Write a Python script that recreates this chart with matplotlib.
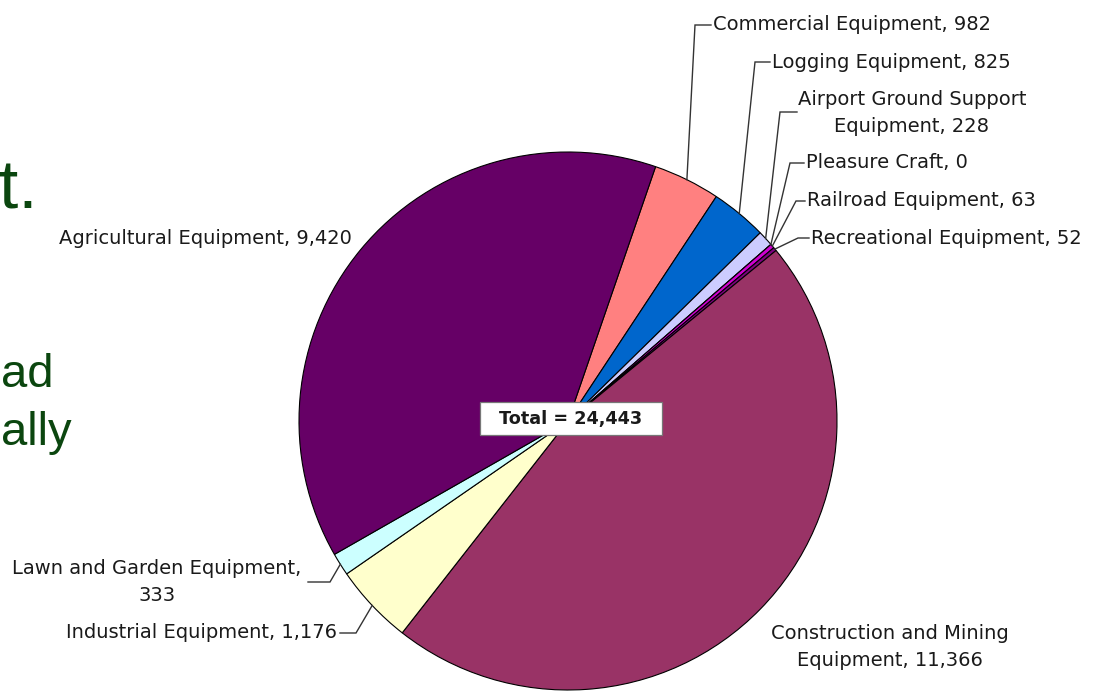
import matplotlib.pyplot as plt
from matplotlib.patches import Rectangle
import numpy as np

# equipment categories, clockwise from the Commercial slice
categories = ["Commercial Equipment", "Logging Equipment", "Airport Ground Support\nEquipment",
              "Pleasure Craft", "Railroad Equipment", "Recreational Equipment",
              "Construction and Mining\nEquipment", "Industrial Equipment",
              "Lawn and Garden Equipment,", "Agricultural Equipment"]
values = [982, 825, 228, 0, 63, 52, 11366, 1176, 333, 9420]
colors = ["#FF8080", "#0066CC", "#CCCCFF", "#000080", "#D000D0", "#800080",
          "#993366", "#FFFFCC", "#CCFFFF", "#660066"]
total = 24443

W, H = 1099, 692
fig = plt.figure(figsize=(W / 100, H / 100), dpi=100)
ax = fig.add_axes([0, 0, 1, 1])

def Y(y):
    # layout positions are given top-down in pixels
    return H - y

cx, cy, r = 568, Y(421), 269
wedges, _ = ax.pie(values, colors=colors, startangle=71, counterclock=False,
                   center=(cx, cy), radius=r, frame=True,
                   wedgeprops=dict(edgecolor="black", linewidth=0.8))
ax.set_xlim(0, W)
ax.set_ylim(0, H)
ax.set_aspect("equal")
ax.axis("off")

# label placement: text position, alignment and leader elbow points
layout = [
    dict(xy=(713, 25), ha="left", path=[(695, 25), (711, 25)]),
    dict(xy=(772, 62), ha="left", path=[(755, 62), (770, 62)]),
    dict(xy=(912, 113), ha="center", path=[(780, 112), (797, 112)]),
    dict(xy=(806, 163), ha="left", path=[(790, 163), (804, 163)]),
    dict(xy=(807, 201), ha="left", path=[(796, 201), (805, 201)]),
    dict(xy=(811, 238), ha="left", path=[(798, 238), (809, 238)]),
    dict(xy=(890, 647), ha="center", path=None),
    dict(xy=(337, 633), ha="right", path=[(356, 633), (340, 633)]),
    dict(xy=(157, 582), ha="center", path=[(330, 582), (308, 582)]),
    dict(xy=(205, 238), ha="center", path=None),
]

font = dict(family="DejaVu Sans", size=14, color="#1a1a1a")
for w, name, v, lay in zip(wedges, categories, values, layout):
    sep = "\n" if name.endswith(",") else ", "
    label = f"{name}{sep}{v:,}"
    tx, ty = lay["xy"]
    ax.text(tx, Y(ty), label, ha=lay["ha"], va="center", linespacing=1.55,
            multialignment="center", **font)
    if lay["path"]:
        mid = np.deg2rad((w.theta1 + w.theta2) / 2)
        ax0 = cx + r * np.cos(mid)
        ay0 = cy + r * np.sin(mid)
        xs = [ax0] + [p[0] for p in lay["path"]]
        ys = [ay0] + [Y(p[1]) for p in lay["path"]]
        ax.plot(xs, ys, color="#333333", lw=1.0, solid_joinstyle="miter")

# total box in the middle of the pie
ax.add_patch(Rectangle((480, Y(435)), 182, 33, fc="white", ec="#777777", lw=0.9, zorder=5))
ax.text(571, Y(419), f"Total = {total:,}", ha="center", va="center", zorder=6,
        family="DejaVu Sans", weight="bold", size=12.7, color="#1a1a1a")

# slide text cut off at the left edge
green = "#0B460F"
fig.text(38 / W, 1 - 208 / H, "t.", ha="right", va="baseline",
         family="Liberation Sans", size=50, color=green)
fig.text(1 / W, 1 - 387 / H, "ad", ha="left", va="baseline",
         family="Liberation Sans", size=34, color=green)
fig.text(1 / W, 1 - 445 / H, "ally", ha="left", va="baseline",
         family="Liberation Sans", size=34, color=green)

fig.savefig("out.png", dpi=100, facecolor="white")
